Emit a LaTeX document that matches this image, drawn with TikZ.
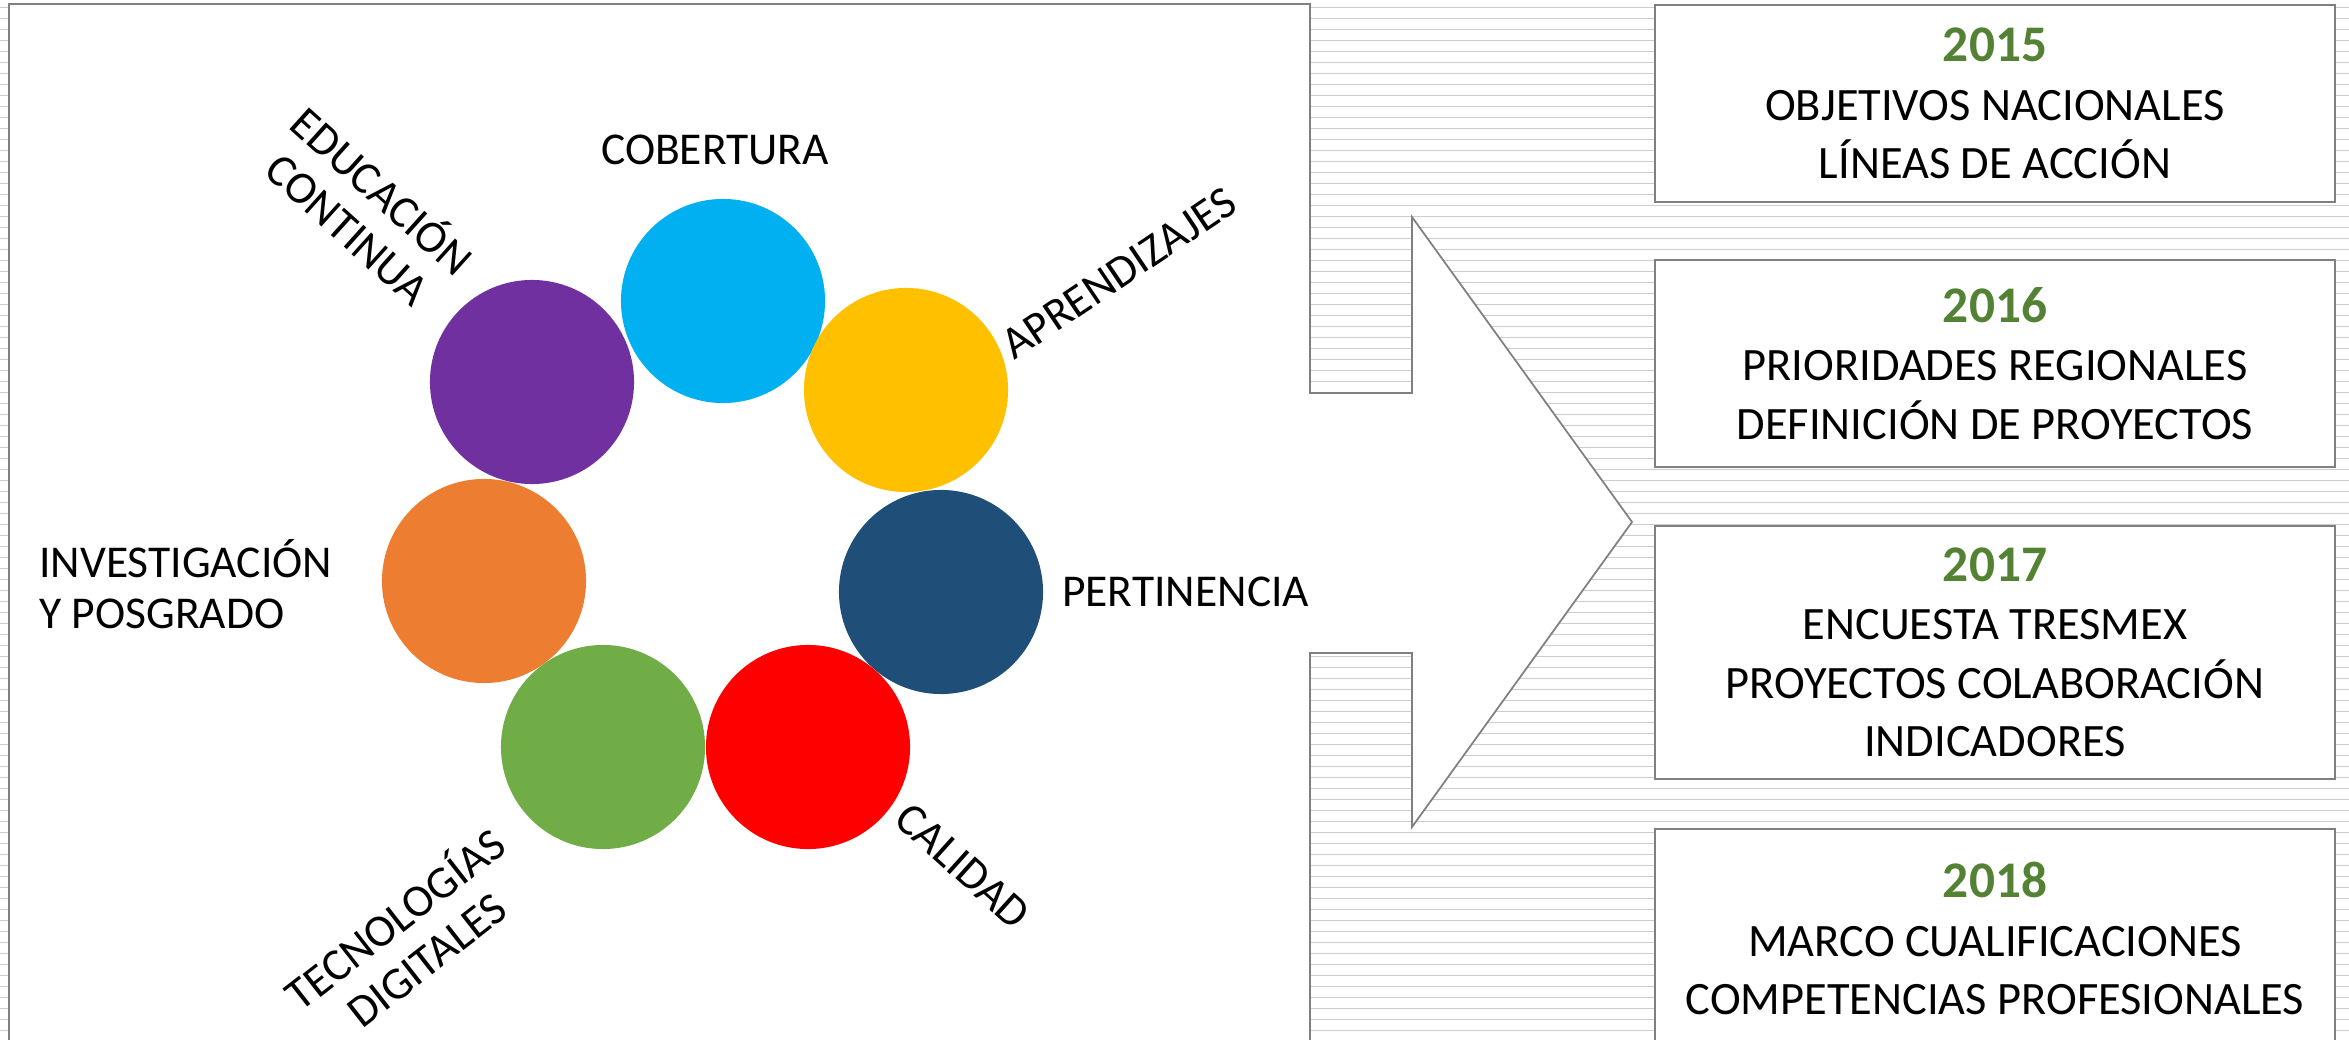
\documentclass[tikz,border=0pt]{standalone}
\usepackage{fontspec}
\setmainfont{Carlito}
\usetikzlibrary{positioning}

\definecolor{cobcolor}{HTML}{00B0F0}
\definecolor{aprcolor}{HTML}{FFC000}
\definecolor{percolor}{HTML}{1F4E79}
\definecolor{calcolor}{HTML}{FF0000}
\definecolor{teccolor}{HTML}{70AD47}
\definecolor{invcolor}{HTML}{ED7D31}
\definecolor{educolor}{HTML}{7030A0}
\definecolor{yeargreen}{HTML}{548235}

\newcommand{\yearlabel}[1]{{\color{yeargreen}\fontsize{14.6}{16.6}\selectfont\bfseries #1}}

\begin{document}
\begin{tikzpicture}[
    x=0.01cm, y=-0.01cm,
    % 圓形樣式
    ball/.style={
        circle,
        inner sep=0pt,
        minimum size=2.04cm
    },
    % 標籤文字樣式
    lbl/.style={
        align=center,
        font=\fontsize{12.95}{14.6}\selectfont
    },
    % 年份方框樣式
    yearbox/.style={
        draw=black!50,
        line width=0.5pt,
        fill=white,
        align=center,
        minimum width=6.8cm,
        font=\fontsize{13.2}{16.6}\selectfont
    },
    % 背景條紋樣式
    stripe/.style={
        draw=black!20,
        line width=0.45pt
    },
    % 白色面板樣式
    panel/.style={
        draw=black!50,
        line width=0.5pt,
        fill=white
    }
]
    \useasboundingbox (0,0) rectangle (2349,1040);
    \clip (0,0) rectangle (2349,1040);

    % --- 1. 背景條紋 ---
    \foreach \k in {0,...,94}
        \draw[stripe] (0,{7.3+11*\k}) -- (2349,{7.3+11*\k});

    % --- 2. 左側面板與箭頭 ---
    \draw[panel] (9,4) -- (1310,4) -- (1310,393) -- (1412,393) -- (1412,217)
        -- (1632,522) -- (1412,827) -- (1412,653) -- (1310,653) -- (1310,1060)
        -- (9,1060) -- cycle;

    % --- 3. 圓形 ---
    \node[ball, fill=invcolor] (inv) at (484,581) {};
    \node[ball, fill=teccolor] (tec) at (603,747) {};
    \node[ball, fill=calcolor] (cal) at (808,747) {};
    \node[ball, fill=percolor] (per) at (941,592) {};
    \node[ball, fill=educolor] (edu) at (532,382) {};
    \node[ball, fill=cobcolor] (cob) at (723,301) {};
    \node[ball, fill=aprcolor] (apr) at (906,390) {};

    % --- 4. 標籤 ---
    \node[lbl] (lcob) at (715,150) {COBERTURA};
    \node[lbl, rotate=34] (lapr) at (1119,273) {APRENDIZAJES};
    \node[lbl, right=0.06cm of per] (lper) {PERTINENCIA};
    \node[lbl, rotate=-42] (lcal) at (963,866) {CALIDAD};
    \node[lbl, rotate=38] (ltec) at (409,937) {TECNOLOGÍAS\\DIGITALES};
    \node[lbl, align=left, anchor=west] (linv) at (27,584) {INVESTIGACIÓN\\Y POSGRADO};
    \node[lbl, rotate=-42] (ledu) at (367,208) {EDUCACIÓN\\CONTINUA};

    % --- 5. 年份方框 ---
    \node[yearbox, minimum height=1.97cm, anchor=north] (y2015) at (1995,4)
        {\yearlabel{2015}\\OBJETIVOS NACIONALES\\LÍNEAS DE ACCIÓN};
    \node[yearbox, minimum height=2.07cm, below=0.56cm of y2015] (y2016)
        {\yearlabel{2016}\\PRIORIDADES REGIONALES\\DEFINICIÓN DE PROYECTOS};
    \node[yearbox, minimum height=2.53cm, below=0.57cm of y2016] (y2017)
        {\yearlabel{2017}\\ENCUESTA TRESMEX\\PROYECTOS COLABORACIÓN\\INDICADORES};
    \node[yearbox, minimum height=2.2cm, below=0.48cm of y2017] (y2018)
        {\yearlabel{2018}\\MARCO CUALIFICACIONES\\COMPETENCIAS PROFESIONALES};

\end{tikzpicture}
\end{document}
